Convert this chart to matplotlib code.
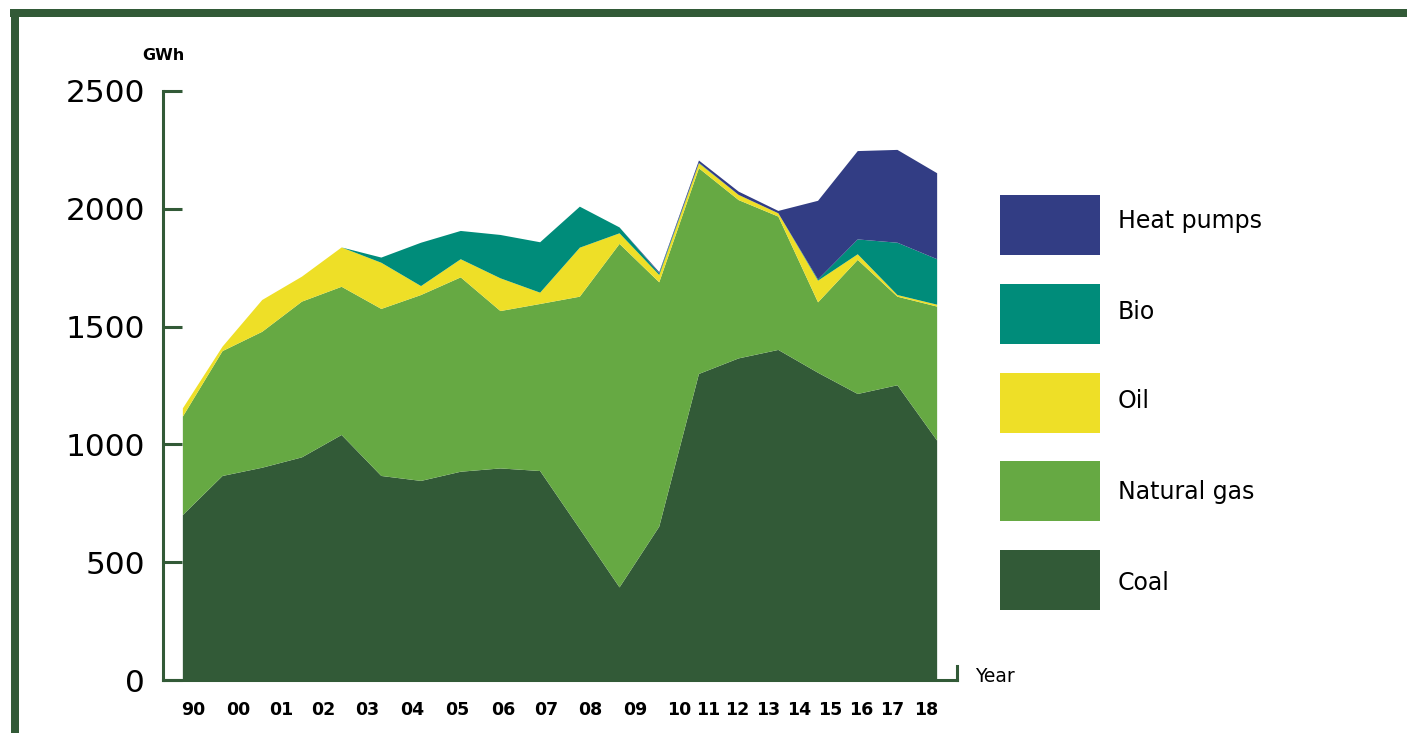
import matplotlib
matplotlib.use("Agg")
import matplotlib.pyplot as plt
from matplotlib.patches import Rectangle
from matplotlib.lines import Line2D
import numpy as np

# ---- data (GWh) ----
years = ["90", "00", "01", "02", "03", "04", "05", "06", "07", "08",
         "09", "10", "11", "12", "13", "14", "15", "16", "17", "18"]
coal = [700, 866, 901, 945, 1040, 866, 845, 884, 898, 887,
        641, 393, 651, 1299, 1365, 1401, 1304, 1214, 1251, 1016]
natural_gas = [418, 530, 577, 661, 629, 709, 789, 825, 668, 709,
               986, 1458, 1037, 873, 672, 566, 299, 569, 376, 569]
oil = [35, 19, 135, 106, 167, 196, 38, 77, 139, 48,
       208, 45, 31, 21, 22, 14, 92, 24, 7, 8]
bio = [0, 0, 0, 0, 0, 22, 184, 120, 184, 214,
       174, 25, 7, 2, 0, 0, 5, 63, 222, 193]
heat_pumps = [0, 0, 0, 0, 0, 0, 0, 0, 0, 0,
              0, 0, 5, 10, 14, 10, 334, 375, 394, 365]

# tick-label positions (in data-point index units), as laid out in the original
year_label_pos = [0.26, 1.39, 2.47, 3.53, 4.64, 5.77, 6.90, 8.06, 9.14, 10.27,
                  11.40, 12.49, 13.24, 13.97, 14.75, 15.53, 16.31, 17.09, 17.87, 18.72]

series_names = ["Coal", "Natural gas", "Oil", "Bio", "Heat pumps"]
colors = ["#325a37", "#66a943", "#eedf27", "#008c7a", "#323d84"]
frame_green = "#325a37"

W, H = 1407, 733
fig = plt.figure(figsize=(W / 100, H / 100), dpi=100)
fig.patch.set_facecolor("white")

# outer frame: thick top and left bars
fig.add_artist(Rectangle((10 / W, 1 - 17 / H), 1 - 10 / W, 8.5 / H,
                         transform=fig.transFigure, color=frame_green, lw=0))
fig.add_artist(Rectangle((11 / W, 0), 8 / W, 1 - 8.5 / H,
                         transform=fig.transFigure, color=frame_green, lw=0))

ax_l, ax_r, ax_t, ax_b = 163, 957, 91, 680
ax = fig.add_axes([ax_l / W, 1 - ax_b / H, (ax_r - ax_l) / W, (ax_b - ax_t) / H])

x = np.arange(len(years))
ax.stackplot(x, coal, natural_gas, oil, bio, heat_pumps,
             colors=colors, linewidth=0, antialiased=True)

ax.set_xlim(-0.5, len(years) - 0.5)
ax.set_ylim(0, 2500)

for s in ["top", "right"]:
    ax.spines[s].set_visible(False)
for s in ["left", "bottom"]:
    ax.spines[s].set_color(frame_green)
    ax.spines[s].set_linewidth(2.2)

ax.set_yticks([0, 500, 1000, 1500, 2000, 2500])
ax.tick_params(axis="y", direction="in", length=14, width=2.2, color=frame_green,
               labelsize=22.5, pad=13, labelcolor="black")
ax.set_xticks(year_label_pos)
ax.set_xticklabels(years)
ax.tick_params(axis="x", length=0, labelsize=12.5, pad=15)
for lbl in ax.get_xticklabels():
    lbl.set_fontweight("bold")

# small end tick at the right end of the x axis
ax.add_line(Line2D([len(years) - 0.5, len(years) - 0.5], [0, 60],
                   color=frame_green, lw=2.2, clip_on=False))

fig.text(142 / W, 1 - 55 / H, "GWh", fontsize=11.5, fontweight="bold",
         va="center", ha="left")
fig.text(975 / W, 1 - 676 / H, "Year", fontsize=13.5, va="center", ha="left")

# legend
legend_items = list(zip(series_names, colors))[::-1]
box_tops = [195, 284, 373, 461, 550]
text_centers = [221, 312, 401, 492, 583]
for (name, col), top, tc in zip(legend_items, box_tops, text_centers):
    fig.add_artist(Rectangle((1000 / W, 1 - (top + 60) / H), 100 / W, 60 / H,
                             transform=fig.transFigure, color=col, lw=0))
    fig.text(1118 / W, 1 - tc / H, name, fontsize=17,
             va="center", ha="left")

fig.savefig("out.png", dpi=100)
